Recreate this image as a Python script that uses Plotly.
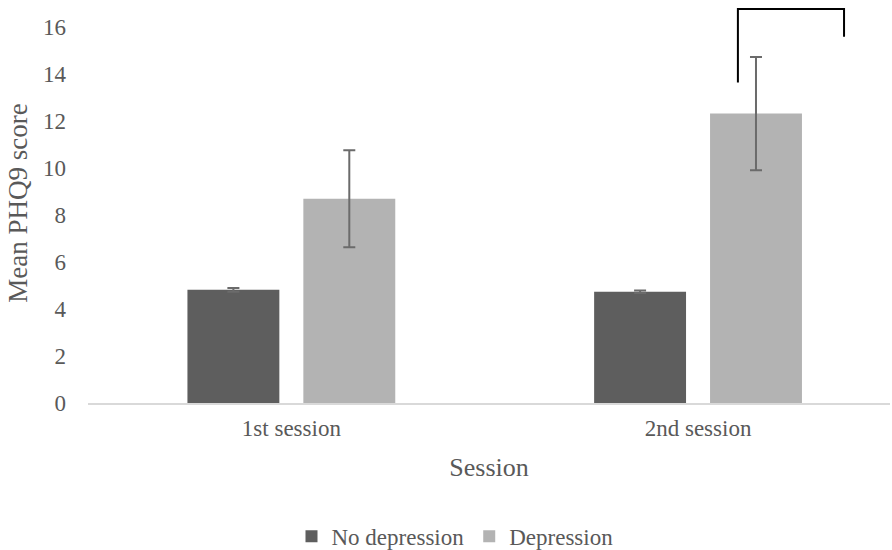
import plotly.graph_objects as go

sessions = ["1st session", "2nd session"]
no_dep = [4.81, 4.73]
no_dep_err = [0.08, 0.05]
dep = [8.68, 12.30]
dep_err = [2.06, 2.41]

text_color = "#595959"
serif = "Liberation Serif"

fig = go.Figure()
fig.add_trace(go.Bar(
    name="No depression", x=sessions, y=no_dep,
    marker=dict(color="#5e5e5e", line=dict(width=0)),
    error_y=dict(type="data", array=no_dep_err, color="#6b6b6b", thickness=2, width=6),
))
fig.add_trace(go.Bar(
    name="Depression", x=sessions, y=dep,
    marker=dict(color="#b3b3b3", line=dict(width=0)),
    error_y=dict(type="data", array=dep_err, color="#6b6b6b", thickness=2, width=6),
))

# significance bracket
bx0, bx1 = 1.098, 1.359
by_top, by_left, by_right = 16.75, 13.62, 15.57
fig.add_shape(type="path", xref="x", yref="y",
              path=f"M {bx0} {by_left} L {bx0} {by_top} L {bx1} {by_top} L {bx1} {by_right}",
              line=dict(color="black", width=2))

fig.update_layout(
    width=892, height=550,
    margin=dict(l=88, r=2, t=3, b=147, autoexpand=False),
    paper_bgcolor="white", plot_bgcolor="white",
    font=dict(family=serif, color=text_color, size=23),
    barmode="group", bargap=0.430, bargroupgap=0.207,
    showlegend=True,
    legend=dict(orientation="h", x=0.4576, xanchor="center", y=-0.333, yanchor="middle",
                font=dict(family=serif, size=23, color=text_color), itemwidth=30,
                traceorder="normal"),
)
fig.update_xaxes(
    range=[-0.5, 1.472], showline=True, linecolor="#d9d9d9", linewidth=1.5,
    ticks="", showgrid=False, automargin=False,
    tickfont=dict(family=serif, size=23, color=text_color),
    ticklabelstandoff=4,
    title=dict(text="Session", font=dict(family=serif, size=26, color=text_color), standoff=17),
)
fig.update_yaxes(
    range=[0, 17], tickvals=[0, 2, 4, 6, 8, 10, 12, 14, 16], showgrid=False,
    zeroline=False, showline=False, ticks="", automargin=False,
    tickfont=dict(family=serif, size=23, color=text_color),
    ticklabelstandoff=21,
    title=dict(text="Mean PHQ9 score", font=dict(family=serif, size=27, color=text_color), standoff=7),
)

fig.write_html("out.html", config={"displayModeBar": False},
               post_script="document.body.style.margin='0';document.body.style.padding='0';")
